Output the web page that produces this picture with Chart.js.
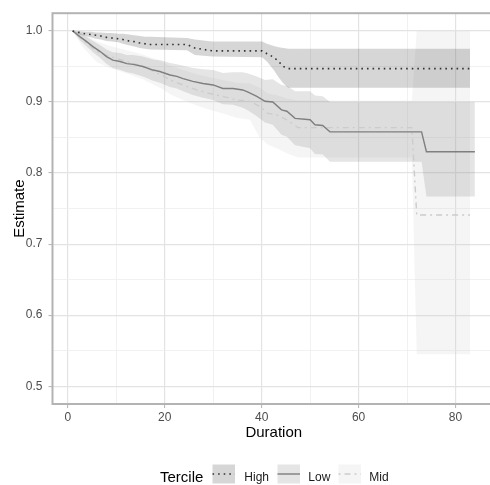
<!DOCTYPE html>
<html>
<head>
<meta charset="utf-8">
<script src="https://cdn.jsdelivr.net/npm/chart.js@4"></script>
<style>
  html, body { margin: 0; padding: 0; background: #fff; overflow: hidden; }
  /* panel runs a few px past the right edge, like the original */
  #wrap { width: 490px; height: 485px; overflow: hidden; }
</style>
</head>
<body>
<div id="wrap"><canvas id="surv" width="495" height="485"></canvas></div>
<script>
// survival estimates per tercile
var highX   = [1, 2.3, 3.6, 4.7, 5.8, 6.8, 8, 9.1, 10.4, 11.4, 12.6, 13.7, 14.9, 15.9, 17, 24.6, 26.2, 29.8, 40.1, 41.1, 42.5, 43.5, 44.5, 45.5, 83];
var highEst = [1, .998, .996, .995, .994, .993, .991, .990, .989, .988, .986, .985, .983, .982, .981, .981, .976, .972, .972, .968, .963, .957, .950, .947, .947];
var highHi  = [1, .9995, .999, .999, .998, .998, .997, .997, .996, .996, .995, .994, .993, .992, .992, .990, .988, .985, .985, .982, .979, .977, .976, .975, .975];
var highLo  = [1, .995, .993, .991, .989, .988, .986, .985, .984, .982, .980, .978, .976, .975, .974, .973, .966, .964, .963, .957, .945, .935, .926, .920, .920];

var lowX   = [1, 2.5, 3.9, 5.2, 6.7, 8, 9.3, 10.8, 12.2, 13.5, 15.5, 17.6, 19, 21.1, 22.5, 23.8, 25.8, 27.9, 30, 32, 34.1, 36.1, 37.2, 39, 40.7, 42.3, 44.1, 45.2, 46.9, 50, 51, 52.6, 54.1, 73, 74, 84];
var lowEst = [1, .992, .985, .978, .971, .964, .959, .957, .954, .953, .950, .945, .943, .938, .936, .933, .929, .926, .924, .919, .919, .917, .914, .908, .901, .900, .889, .887, .877, .875, .868, .867, .858, .858, .830, .830];
var lowHi  = [1, .997, .992, .986, .980, .974, .970, .969, .966, .966, .964, .960, .959, .955, .953, .951, .948, .946, .945, .941, .942, .942, .940, .936, .931, .932, .924, .923, .915, .915, .909, .908, .900, .900, .900, .900];
var lowLo  = [1, .987, .978, .970, .962, .954, .948, .945, .942, .940, .936, .930, .927, .921, .919, .915, .910, .906, .903, .897, .896, .892, .888, .880, .871, .868, .854, .851, .839, .835, .827, .826, .816, .816, .767, .767];

var midX   = [1, 3, 6, 8.7, 12.2, 15.5, 19.6, 21.1, 23.8, 26.6, 29.3, 32, 34.8, 37.6, 39.6, 41.3, 43.1, 45.2, 47.5, 71, 72, 83];
var midEst = [1, .988, .971, .964, .957, .950, .937, .931, .924, .917, .912, .908, .903, .901, .894, .884, .882, .875, .864, .864, .741, .741];
var midHi  = [1, .996, .985, .979, .973, .967, .956, .951, .945, .939, .935, .931, .927, .926, .920, .912, .910, .905, .902, .902, 1, 1];
var midLo  = [1, .978, .956, .948, .940, .932, .918, .911, .903, .895, .889, .884, .878, .875, .850, .840, .835, .828, .822, .822, .545, .545];

// axis ticks
var xMajor = [0, 20, 40, 60, 80];
var xMinor = [10, 30, 50, 70];
var yMajor = [0.5, 0.6, 0.7, 0.8, 0.9, 1.0];
var yMinor = [0.55, 0.65, 0.75, 0.85, 0.95];

var terciles = ['High', 'Low', 'Mid'];

// grey scale like scale_colour_grey()
var lineCol = { High: '#333333', Low: '#7f7f7f', Mid: '#cccccc' };
var fillCol = { High: 'rgba(51,51,51,0.2)', Low: 'rgba(127,127,127,0.2)', Mid: 'rgba(204,204,204,0.2)' };
var dashes  = { High: [1.6, 4], Low: [], Mid: [2, 4, 6, 4] };
var widths  = { High: 1.6, Low: 1.4, Mid: 1.4 };

var FONT = '"Liberation Sans", Arial, sans-serif';
Chart.defaults.font.family = FONT;

function pts(xs, ys){
  return xs.map(function(x, i){ return { x: x, y: ys[i] }; });
}

function band(xs, ys, name, fill){
  return {
    label: name + ' band',
    data: pts(xs, ys),
    borderColor: 'rgba(0,0,0,0)',
    borderWidth: 1,
    backgroundColor: fillCol[name],
    pointRadius: 0,
    fill: fill,
    tension: 0,
    order: 10
  };
}

function line(xs, ys, name){
  return {
    label: name,
    data: pts(xs, ys),
    borderColor: lineCol[name],
    borderWidth: widths[name],
    borderDash: dashes[name],
    borderCapStyle: 'butt',
    pointRadius: 0,
    fill: false,
    tension: 0,
    order: 1
  };
}

// ggplot style panel border drawn over everything
var panelBorder = {
  id: 'panelBorder',
  afterDatasetsDraw: function(chart){
    var a = chart.chartArea, c = chart.ctx;
    c.save();
    c.strokeStyle = '#b3b3b3';
    c.lineWidth = 2;
    c.strokeRect(a.left, a.top, a.right - a.left, a.bottom - a.top);
    c.restore();
  }
};

// legend at the bottom: title + 3 keys
var tercileLegend = {
  id: 'tercileLegend',
  afterDraw: function(chart){
    var c = chart.ctx;
    var keyX  = [212.5, 277.5, 338.5];
    var textX = [244.3, 308.3, 369.3];
    var keyW = 22.5, keyTop = 464.5, keyH = 19;
    c.save();
    c.textBaseline = 'alphabetic';
    c.fillStyle = '#000';
    c.font = '15px ' + FONT;
    c.fillText('Tercile', 160, 481.5);
    c.font = '12px ' + FONT;
    terciles.forEach(function(t, i){
      c.fillStyle = '#fff';
      c.fillRect(keyX[i], keyTop, keyW, keyH);
      c.fillStyle = fillCol[t];
      c.fillRect(keyX[i], keyTop, keyW, keyH);
      c.strokeStyle = lineCol[t];
      c.lineWidth = widths[t];
      c.setLineDash(dashes[t]);
      c.beginPath();
      c.moveTo(keyX[i], keyTop + keyH / 2);
      c.lineTo(keyX[i] + keyW, keyTop + keyH / 2);
      c.stroke();
      c.setLineDash([]);
      c.fillStyle = '#1a1a1a';
      c.fillText(t, textX[i], 481.3);
    });
    c.restore();
  }
};

function isMinor(ctx, minorList){
  return ctx.tick && minorList.indexOf(ctx.tick.value) >= 0;
}

function gridOpts(minorList){
  return {
    color: function(ctx){ return isMinor(ctx, minorList) ? '#eeeeee' : '#e3e3e3'; },
    lineWidth: function(ctx){ return isMinor(ctx, minorList) ? 0.8 : 1.2; },
    drawTicks: true,
    tickLength: 4,
    tickWidth: 1,
    tickColor: function(ctx){ return isMinor(ctx, minorList) ? 'rgba(0,0,0,0)' : '#b3b3b3'; }
  };
}

new Chart(document.getElementById('surv'), {
  type: 'line',
  data: {
    datasets: [
      band(highX, highHi, 'High', '+1'),
      band(highX, highLo, 'High', false),
      band(lowX, lowHi, 'Low', '+1'),
      band(lowX, lowLo, 'Low', false),
      band(midX, midHi, 'Mid', '+1'),
      band(midX, midLo, 'Mid', false),
      line(highX, highEst, 'High'),
      line(lowX, lowEst, 'Low'),
      line(midX, midEst, 'Mid')
    ]
  },
  options: {
    responsive: false,
    devicePixelRatio: 1,
    animation: false,
    layout: { padding: { top: 11, right: 0, bottom: 40, left: 0 } },
    plugins: {
      legend: { display: false },
      tooltip: { enabled: false },
      filler: { drawTime: 'beforeDatasetsDraw' }
    },
    scales: {
      x: {
        type: 'linear',
        min: -3.15,
        max: 88.15,
        afterBuildTicks: function(s){
          s.ticks = xMajor.concat(xMinor).sort(function(a, b){ return a - b; })
            .map(function(v){ return { value: v }; });
        },
        afterFit: function(s){ s.height = 41; },
        ticks: {
          color: '#4d4d4d',
          font: { size: 12 },
          padding: 2,
          maxRotation: 0,
          autoSkip: false,
          callback: function(v){ return xMajor.indexOf(v) >= 0 ? String(v) : ''; }
        },
        grid: gridOpts(xMinor),
        border: { display: false },
        title: {
          display: true,
          text: 'Duration',
          color: '#000',
          font: { size: 15, lineHeight: 1.2 },
          padding: { top: 0, bottom: 3.5 }
        }
      },
      y: {
        type: 'linear',
        min: 0.475,
        max: 1.025,
        afterBuildTicks: function(s){
          s.ticks = yMajor.concat(yMinor).sort(function(a, b){ return a - b; })
            .map(function(v){ return { value: v }; });
        },
        afterFit: function(s){ s.width = 52.5; },
        ticks: {
          color: '#4d4d4d',
          font: { size: 12 },
          padding: 6,
          autoSkip: false,
          callback: function(v){ return yMajor.indexOf(v) >= 0 ? v.toFixed(1) : ''; }
        },
        grid: gridOpts(yMinor),
        border: { display: false },
        title: {
          display: true,
          text: 'Estimate',
          color: '#000',
          font: { size: 15, lineHeight: 1.2 },
          padding: { top: 10.8, bottom: 0 }
        }
      }
    }
  },
  plugins: [panelBorder, tercileLegend]
});
</script>
</body>
</html>
